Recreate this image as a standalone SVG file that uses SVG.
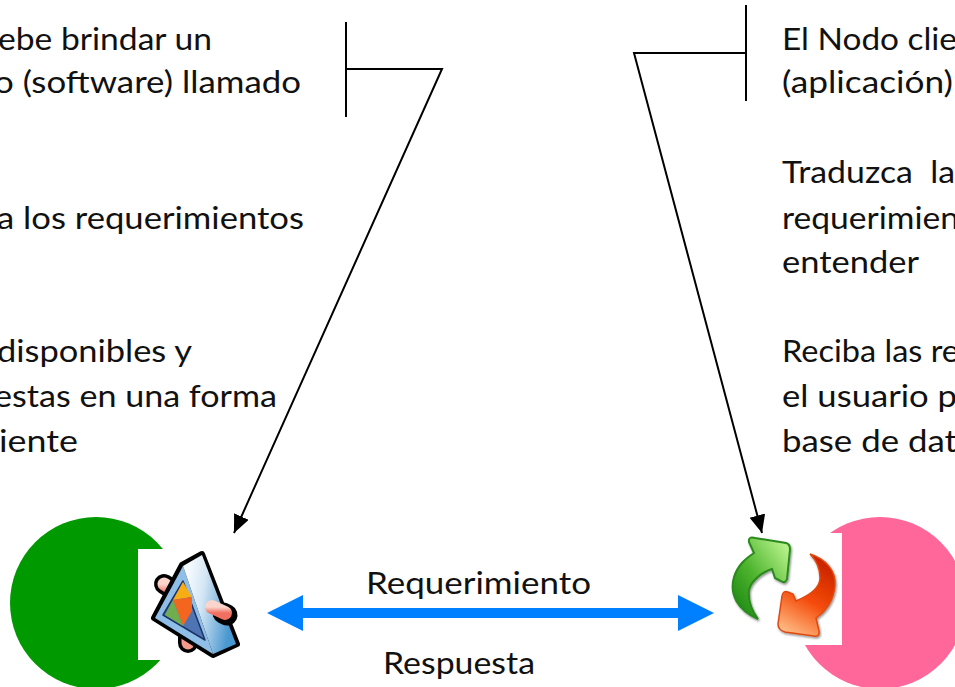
<svg xmlns="http://www.w3.org/2000/svg" width="955" height="687" viewBox="0 0 955 687">
<style>
text{font-family:Lato,"Open Sans","Liberation Sans",sans-serif;font-size:31px;fill:#111;white-space:pre}
.l{fill:none;stroke:#000;stroke-width:2}
</style>
<defs>
<marker id="head" markerUnits="userSpaceOnUse" markerWidth="20" markerHeight="18" refX="18" refY="8" orient="auto"><path d="M0 0L18 8L0 16Z" fill="#000"/></marker>
<linearGradient id="body" x1="0" y1="0" x2="1" y2="0.3"><stop offset="0.15" stop-color="#f4f9fd"/><stop offset="0.45" stop-color="#d4e6f4"/><stop offset="1" stop-color="#4a98d0"/></linearGradient>
<linearGradient id="pin" x1="0" y1="0" x2="0" y2="1"><stop offset="0" stop-color="#fbd5cc"/><stop offset="1" stop-color="#ef6f60"/></linearGradient>
<linearGradient id="grn" x1="0.9" y1="0.1" x2="0.1" y2="0.9"><stop offset="0" stop-color="#b4f088"/><stop offset="0.55" stop-color="#4fb52f"/><stop offset="1" stop-color="#1f8a14"/></linearGradient>
<linearGradient id="red" x1="0.6" y1="0" x2="0.2" y2="1"><stop offset="0" stop-color="#c92200"/><stop offset="0.5" stop-color="#f44a08"/><stop offset="1" stop-color="#ffc08a"/></linearGradient>
<filter id="sh" x="-20%" y="-20%" width="140%" height="140%"><feDropShadow dx="1" dy="1.5" stdDeviation="1" flood-color="#000" flood-opacity="0.45"/></filter>
</defs>
<g id="node-servidor">
<circle cx="96" cy="603" r="86" fill="#009900"/>
<rect x="138" y="549" width="60" height="111" fill="#fff"/>
<g id="icon-servidor">
<path d="M164 584L178 593" stroke="#000" stroke-width="20" stroke-linecap="round"/>
<path d="M164 584L178 593" stroke="url(#pin)" stroke-width="13" stroke-linecap="round"/>
<path d="M188 636V643" stroke="#000" stroke-width="20" stroke-linecap="round"/>
<path d="M188 636V643" stroke="#f59a8a" stroke-width="13" stroke-linecap="round"/>
<path d="M202 554L182 565L154 618L213 655L237 644Z" fill="#000" stroke="#000" stroke-width="6" stroke-linejoin="round"/>
<path d="M183 566L155 618L213 654Z" fill="#8fbfe8"/>
<path d="M183 566L202 555L236 644L213 654Z" fill="url(#body)"/>
<path d="M183 581L163 615L205 640Z" fill="#4f74b4" stroke="#1c3565" stroke-width="1.5" stroke-linejoin="round"/>
<path d="M183 582L173 600L192 597Z" fill="#f8ad14"/>
<path d="M173 600L192 597L192 611L183 626Z" fill="#f4661f"/>
<path d="M173 600L183 626L165 615Z" fill="#70ad4f"/>
<path d="M223 613L227 615" stroke="#000" stroke-width="21" stroke-linecap="round"/>
<path d="M212 607L225 613" stroke="url(#pin)" stroke-width="14" stroke-linecap="round"/>
</g>
</g>
<g id="node-cliente">
<circle cx="880" cy="603" r="86" fill="#ff6699"/>
<rect x="780" y="533" width="62" height="112" fill="#fff"/>
<g id="icon-cliente">
<path filter="url(#sh)" d="M758 619C738 610 729 595 734 577C738 565 745 559 754 553L749 542Q748 536 755 538L786 543Q790 544 790 549L787 579Q785 584 781 581L775 578L772 569C762 572 751 581 749 590C748 600 752 611 758 619Z" fill="url(#grn)" stroke="#2a8a1c" stroke-width="2"/>
<path filter="url(#sh)" d="M810 554C826 559 836 571 835 585C834 600 826 611 816 618L819 631Q820 637 814 636L785 632Q778 630 778 624L782 596Q783 590 788 592L793 594L796 601C808 596 820 588 820 578C820 568 816 560 810 554Z" fill="url(#red)" stroke="#e04a10" stroke-width="1.5"/>
</g>
</g>
<g id="connectors">
<path class="l" d="M346 22V117"/>
<path class="l" d="M346 69H442L234 533" marker-end="url(#head)"/>
<path class="l" d="M746 5V101"/>
<path class="l" d="M746 53H634L762 533" marker-end="url(#head)"/>
<path d="M267 613L303 595V608H678V595L714 613L678 631V618H303V631Z" fill="#0080ff"/>
</g>
<g id="texto-izquierda">
<text x="-2" y="50" textLength="214" lengthAdjust="spacingAndGlyphs">ebe brindar un</text>
<text x="-6" y="93" textLength="307" lengthAdjust="spacingAndGlyphs">o (software) llamado</text>
<text x="-3" y="229" textLength="307" lengthAdjust="spacingAndGlyphs">a los requerimientos</text>
<text x="-3" y="362" textLength="195" lengthAdjust="spacingAndGlyphs">disponibles y</text>
<text x="-6" y="407" textLength="283" lengthAdjust="spacingAndGlyphs">estas en una forma</text>
<text x="-1" y="452" textLength="79" lengthAdjust="spacingAndGlyphs">iente</text>
</g>
<g id="texto-derecha">
<text x="782" y="50" textLength="175" lengthAdjust="spacingAndGlyphs">El Nodo clie</text>
<text x="782" y="93" textLength="171" lengthAdjust="spacingAndGlyphs">(aplicación)</text>
<text x="782" y="183" textLength="173" lengthAdjust="spacingAndGlyphs">Traduzca  la</text>
<text x="782" y="229" textLength="177" lengthAdjust="spacingAndGlyphs">requerimien</text>
<text x="782" y="273" textLength="137" lengthAdjust="spacingAndGlyphs">entender</text>
<text x="782" y="362" textLength="177" lengthAdjust="spacingAndGlyphs">Reciba las re</text>
<text x="782" y="407" textLength="175" lengthAdjust="spacingAndGlyphs">el usuario p</text>
<text x="782" y="452" textLength="175" lengthAdjust="spacingAndGlyphs">base de dat</text>
</g>
<g id="etiquetas">
<text x="366" y="594" textLength="225" lengthAdjust="spacingAndGlyphs">Requerimiento</text>
<text x="383" y="674" textLength="152" lengthAdjust="spacingAndGlyphs">Respuesta</text>
</g>
</svg>
